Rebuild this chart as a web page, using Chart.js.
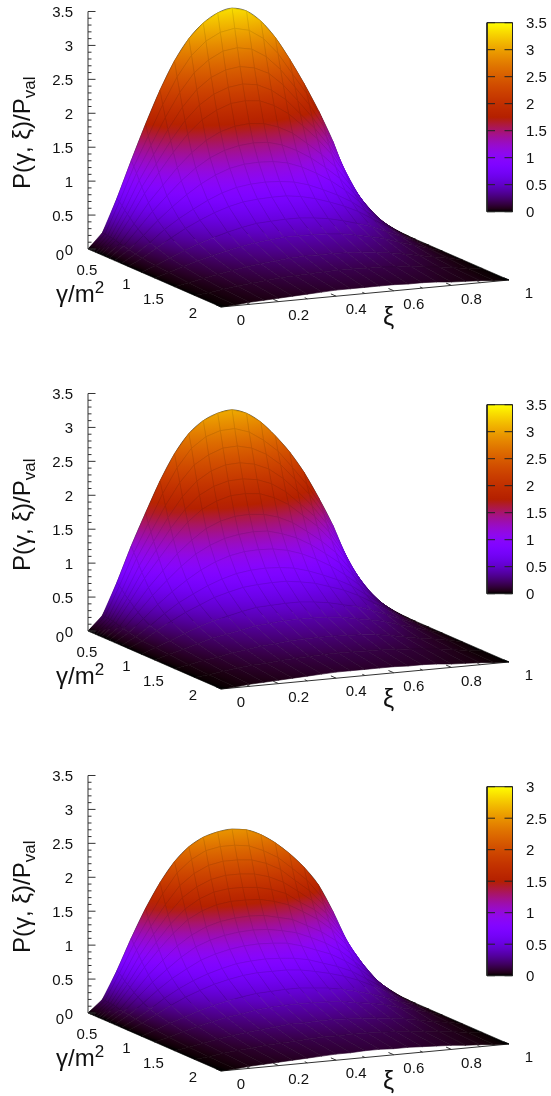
<!DOCTYPE html>
<html>
<head>
<meta charset="utf-8">
<title>P(gamma, xi)/Pval surfaces</title>
<script src="https://cdn.jsdelivr.net/npm/chart.js@4"></script>
<style>
  html, body { margin: 0; padding: 0; background: #fff; overflow: hidden; }
  canvas { position: absolute; left: 0; }
</style>
</head>
<body>
<canvas id="panelTop" width="551" height="382" style="top:0"></canvas>
<canvas id="panelMiddle" width="551" height="382" style="top:382px"></canvas>
<canvas id="panelBottom" width="551" height="332" style="top:764px"></canvas>
<script>
// Mesh positions of the surfaces
const xiValues = [0, .05, .1, .15, .2, .25, .3, .35, .4, .45, .5, .55, .6, .65, .7, .75, .8, .85, .9, .95, 1];
const gammaValues = [0, .04, .08, .12, .16, .2, .26, .32, .4, .5, .6, .8, 1, 1.3, 1.6, 2];

// One row per gamma value, one column per xi value
const surfaceTop = [
  [0,.22,.70,1.24,1.76,2.24,2.65,2.96,3.17,3.30,3.35,3.29,3.12,2.86,2.52,2.14,1.72,1.25,.68,.26,0],
  [0,.22,.67,1.17,1.60,2.04,2.43,2.73,2.92,3.03,3.07,3.02,2.88,2.64,2.32,2.01,1.65,1.15,.63,.24,0],
  [0,.21,.63,1.09,1.48,1.87,2.22,2.49,2.66,2.77,2.80,2.76,2.63,2.42,2.14,1.86,1.52,1.07,.59,.23,0],
  [0,.21,.58,1.00,1.36,1.71,2.02,2.26,2.42,2.51,2.54,2.50,2.40,2.21,1.96,1.70,1.39,.99,.56,.23,0],
  [0,.20,.54,.92,1.24,1.56,1.84,2.05,2.19,2.27,2.30,2.27,2.17,2.01,1.78,1.55,1.27,.91,.52,.21,0],
  [0,.19,.50,.84,1.13,1.41,1.66,1.85,1.97,2.05,2.07,2.05,1.96,1.82,1.62,1.41,1.16,.83,.48,.20,0],
  [0,.17,.44,.73,.97,1.21,1.41,1.57,1.68,1.74,1.76,1.74,1.67,1.56,1.39,1.21,1.00,.72,.43,.18,0],
  [0,.16,.39,.63,.84,1.04,1.21,1.34,1.43,1.48,1.50,1.49,1.43,1.33,1.20,1.04,.86,.62,.38,.16,0],
  [0,.14,.33,.53,.71,.87,1.01,1.12,1.20,1.24,1.25,1.24,1.20,1.12,1.01,.88,.72,.53,.32,.14,0],
  [0,.12,.27,.44,.58,.70,.81,.90,.96,.99,1.00,.99,.96,.90,.81,.71,.59,.43,.27,.12,0],
  [0,.10,.23,.36,.48,.58,.67,.74,.79,.81,.82,.82,.79,.74,.67,.59,.49,.36,.23,.10,0],
  [0,.08,.17,.26,.34,.41,.47,.52,.56,.57,.58,.58,.56,.53,.48,.42,.35,.26,.17,.08,0],
  [0,.06,.13,.19,.25,.30,.34,.38,.40,.42,.42,.42,.41,.39,.35,.31,.26,.19,.13,.06,0],
  [0,.04,.08,.12,.16,.19,.22,.24,.26,.27,.27,.27,.26,.25,.23,.20,.16,.12,.08,.04,0],
  [0,.02,.05,.08,.10,.12,.14,.15,.16,.17,.17,.17,.16,.16,.14,.13,.10,.08,.05,.02,0],
  [0,.01,.03,.04,.05,.06,.07,.08,.09,.09,.09,.09,.09,.08,.08,.07,.05,.04,.03,.01,0]
];
const surfaceMiddle = [
  [0,.21,.67,1.19,1.66,2.11,2.49,2.77,2.94,3.03,3.06,2.99,2.84,2.62,2.36,2.04,1.65,1.22,.70,.28,0],
  [0,.21,.64,1.11,1.52,1.94,2.30,2.57,2.72,2.79,2.80,2.73,2.59,2.41,2.15,1.88,1.55,1.12,.65,.25,0],
  [0,.20,.60,1.04,1.41,1.78,2.10,2.34,2.47,2.55,2.56,2.51,2.40,2.23,1.99,1.75,1.44,1.04,.60,.24,0],
  [0,.20,.55,.95,1.29,1.62,1.91,2.12,2.25,2.32,2.33,2.29,2.20,2.04,1.83,1.60,1.32,.96,.56,.23,0],
  [0,.19,.51,.87,1.18,1.48,1.74,1.93,2.04,2.10,2.11,2.08,2.00,1.86,1.66,1.46,1.21,.88,.52,.21,0],
  [0,.18,.48,.80,1.07,1.34,1.57,1.74,1.84,1.90,1.91,1.89,1.81,1.69,1.51,1.33,1.10,.80,.48,.20,0],
  [0,.16,.42,.69,.92,1.15,1.33,1.48,1.57,1.62,1.63,1.61,1.55,1.45,1.30,1.14,.95,.69,.42,.18,0],
  [0,.15,.37,.60,.80,.99,1.15,1.26,1.34,1.38,1.40,1.39,1.33,1.25,1.13,.98,.82,.60,.37,.16,0],
  [0,.13,.31,.50,.67,.82,.95,1.05,1.12,1.16,1.17,1.16,1.12,1.05,.95,.83,.68,.51,.31,.14,0],
  [0,.11,.25,.41,.55,.66,.76,.84,.90,.93,.94,.93,.90,.84,.76,.67,.56,.41,.26,.12,0],
  [0,.09,.22,.34,.45,.54,.63,.69,.74,.76,.77,.77,.74,.70,.63,.56,.46,.34,.22,.10,0],
  [0,.08,.16,.24,.32,.39,.44,.49,.53,.54,.55,.55,.53,.50,.45,.40,.33,.25,.16,.08,0],
  [0,.06,.12,.18,.24,.28,.32,.36,.38,.40,.40,.40,.39,.37,.33,.29,.25,.18,.12,.06,0],
  [0,.04,.08,.11,.15,.18,.21,.23,.25,.26,.26,.26,.25,.24,.22,.19,.15,.11,.08,.04,0],
  [0,.02,.05,.08,.10,.11,.13,.14,.15,.16,.16,.16,.15,.15,.13,.12,.10,.08,.05,.02,0],
  [0,.01,.03,.04,.05,.06,.07,.08,.09,.09,.09,.09,.09,.08,.08,.07,.05,.04,.03,.01,0]
];
const surfaceBottom = [
  [0,.18,.58,1.04,1.46,1.82,2.11,2.31,2.43,2.49,2.51,2.48,2.39,2.25,2.07,1.85,1.57,1.16,.69,.28,0],
  [0,.18,.56,.97,1.33,1.67,1.96,2.14,2.25,2.29,2.29,2.26,2.17,2.05,1.87,1.68,1.42,1.06,.64,.26,0],
  [0,.17,.52,.90,1.23,1.53,1.79,1.95,2.05,2.09,2.09,2.07,2.00,1.89,1.71,1.54,1.31,.98,.60,.25,0],
  [0,.17,.48,.83,1.13,1.40,1.63,1.77,1.86,1.90,1.90,1.88,1.82,1.72,1.57,1.41,1.20,.91,.57,.25,0],
  [0,.17,.45,.76,1.03,1.28,1.48,1.61,1.69,1.72,1.72,1.70,1.65,1.57,1.42,1.29,1.09,.84,.53,.23,0],
  [0,.16,.42,.70,.94,1.16,1.34,1.45,1.52,1.55,1.55,1.54,1.49,1.42,1.30,1.17,1.00,.76,.49,.22,0],
  [0,.14,.37,.61,.81,1.00,1.14,1.24,1.30,1.33,1.34,1.33,1.28,1.23,1.12,1.01,.86,.66,.43,.19,0],
  [0,.13,.33,.53,.70,.86,.99,1.07,1.12,1.15,1.16,1.15,1.11,1.06,.97,.87,.74,.56,.37,.17,0],
  [0,.12,.28,.45,.60,.72,.83,.90,.95,.98,.99,.98,.96,.90,.82,.74,.62,.48,.31,.15,0],
  [0,.10,.23,.37,.49,.59,.67,.73,.78,.80,.81,.80,.78,.74,.67,.60,.51,.38,.25,.12,0],
  [0,.09,.20,.31,.41,.49,.56,.61,.65,.67,.67,.67,.65,.61,.56,.50,.42,.32,.21,.10,0],
  [0,.07,.15,.22,.29,.35,.40,.44,.47,.48,.49,.49,.47,.45,.41,.36,.30,.23,.15,.08,0],
  [0,.05,.11,.17,.22,.26,.29,.33,.35,.36,.36,.36,.35,.34,.30,.27,.23,.17,.12,.06,0],
  [0,.03,.07,.11,.14,.17,.19,.21,.23,.23,.24,.24,.23,.22,.20,.18,.15,.11,.07,.04,0],
  [0,.02,.05,.07,.09,.11,.12,.13,.14,.15,.15,.15,.15,.14,.13,.11,.09,.07,.05,.02,0],
  [0,.01,.03,.04,.05,.06,.07,.08,.09,.09,.10,.10,.09,.09,.08,.07,.06,.04,.03,.01,0]
];

// Tick labels
const zTicks = [0, .5, 1, 1.5, 2, 2.5, 3, 3.5];
const gammaTicks = [0, .5, 1, 1.5, 2];
const xiTicks = [0, .2, .4, .6, .8, 1];
const cbTicksTall = [0, .5, 1, 1.5, 2, 2.5, 3, 3.5];
const cbTicksShort = [0, .5, 1, 1.5, 2, 2.5, 3];

// Layout of one gnuplot panel, in pixels
const ORIGIN_X = 88, ORIGIN_Y = 249;
const AREA_RIGHT = 513;
const PX_PER_XI = 288, PX_PER_Z = 67.86;
const XI_RISE = 27, GAMMA_DX = 133, GAMMA_DROP = 58;   // pixels over the full xi and gamma ranges
const CB_BOTTOM = 211.7, CB_HEIGHT = 189;
const CB_LEFT = 487, CB_CENTER = 500;

const FONT = '"Liberation Sans", Arial, sans-serif';
const AXIS_COLOR = '#333';
const MESH_SHADE = 0.86;

Chart.defaults.font.family = FONT;

function palette(v, cbMax, shade) {
  const x = Math.min(1, Math.max(0, v / cbMax));
  const k = (shade === undefined ? 1 : shade) * 255;
  const r = Math.sqrt(x), g = x * x * x, b = Math.max(0, Math.sin(2 * Math.PI * x));
  return `rgb(${Math.round(r * k)},${Math.round(g * k)},${Math.round(b * k)})`;
}

// Oblique view: everything ends up in xi units across and z units up
function project(gamma, xi, z) {
  return {
    x: xi + (gamma / 2) * GAMMA_DX / PX_PER_XI,
    y: z + xi * XI_RISE / PX_PER_Z - (gamma / 2) * GAMMA_DROP / PX_PER_Z
  };
}

// Options get resolved once before the layout has run, the scales give NaN then
function scaleReady(scale) {
  return scale && Number.isFinite(scale.getPixelForValue(0));
}

// Colour follows height inside a cell, so use a gradient along the slope of the cell
function cellFill(chart, pts, zs, cbMax, shade) {
  const sx = chart.scales.x, sy = chart.scales.y;
  const zMean = (zs[0] + zs[1] + zs[2] + zs[3]) / 4;
  if (!scaleReady(sx) || !scaleReady(sy)) return palette(zMean, cbMax, shade);
  const px = pts.map(p => ({ x: sx.getPixelForValue(p.x), y: sy.getPixelForValue(p.y) }));
  const zMin = Math.min(...zs), zMax = Math.max(...zs);
  const e1x = (px[1].x - px[0].x + px[2].x - px[3].x) / 2, e1y = (px[1].y - px[0].y + px[2].y - px[3].y) / 2;
  const e2x = (px[3].x - px[0].x + px[2].x - px[1].x) / 2, e2y = (px[3].y - px[0].y + px[2].y - px[1].y) / 2;
  const d1 = (zs[1] - zs[0] + zs[2] - zs[3]) / 2, d2 = (zs[3] - zs[0] + zs[2] - zs[1]) / 2;
  const det = e1x * e2y - e1y * e2x;
  if (Math.abs(det) < 1e-6 || zMax - zMin < 1e-4) return palette(zMean, cbMax, shade);
  const a = (d1 * e2y - d2 * e1y) / det, b = (e1x * d2 - e2x * d1) / det;
  const len2 = a * a + b * b;
  if (len2 < 1e-9) return palette(zMean, cbMax, shade);
  const cx = (px[0].x + px[1].x + px[2].x + px[3].x) / 4, cy = (px[0].y + px[1].y + px[2].y + px[3].y) / 4;
  const grad = chart.ctx.createLinearGradient(
    cx + a * (zMin - zMean) / len2, cy + b * (zMin - zMean) / len2,
    cx + a * (zMax - zMean) / len2, cy + b * (zMax - zMean) / len2);
  for (let k = 0; k <= 4; k++) grad.addColorStop(k / 4, palette(zMin + (zMax - zMin) * k / 4, cbMax, shade));
  return grad;
}

function surfaceDatasets(table, cbMax) {
  const sets = [];
  // first dataset is painted last, so the front of the surface comes first
  for (let g = gammaValues.length - 2; g >= 0; g--) {
    for (let i = 0; i < xiValues.length - 1; i++) {
      const corners = [[g, i], [g, i + 1], [g + 1, i + 1], [g + 1, i]];
      const zs = corners.map(c => table[c[0]][c[1]]);
      const pts = corners.map((c, k) => project(gammaValues[c[0]], xiValues[c[1]], zs[k]));
      sets.push({
        data: pts.concat([pts[0]]),
        showLine: true,
        pointRadius: 0,
        borderWidth: 0.6,
        borderColor: ctx => cellFill(ctx.chart, pts, zs, cbMax, MESH_SHADE),
        backgroundColor: ctx => cellFill(ctx.chart, pts, zs, cbMax),
        fill: 'shape'
      });
    }
  }
  return sets;
}

// The back row again as a smooth curve behind the cells, that gives the dome its round outline
function backEdgeSet(table, cbMax) {
  return {
    data: xiValues.map((xi, i) => project(gammaValues[0], xi, table[0][i])),
    showLine: true,
    pointRadius: 0,
    cubicInterpolationMode: 'monotone',
    borderWidth: 0.8,
    borderColor: 'rgba(30,30,30,0.75)',
    fill: 'shape',
    backgroundColor: ctx => {
      const sy = ctx.chart.scales.y;
      if (!scaleReady(sy)) return 'transparent';
      const lift = 0.5 * XI_RISE / PX_PER_Z;
      const grad = ctx.chart.ctx.createLinearGradient(0, sy.getPixelForValue(lift), 0, sy.getPixelForValue(lift + cbMax));
      for (let k = 0; k <= 32; k++) grad.addColorStop(k / 32, palette(cbMax * k / 32, cbMax));
      return grad;
    }
  };
}

// Line pieces for axes and tick marks, NaN breaks the line between them
function lineSet(pieces, yAxisID, color) {
  const data = [];
  pieces.forEach(p => data.push({ x: p[0], y: p[1] }, { x: p[2], y: p[3] }, { x: NaN, y: NaN }));
  return { data, yAxisID: yAxisID, showLine: true, pointRadius: 0, borderWidth: 1, borderColor: color, fill: false, clip: false };
}

function zAxisSet() {
  const pieces = [[0, 0, 0, 3.5]];
  for (let k = 0; k <= 35; k++) {
    const len = k % 5 === 0 ? 7.5 : 3.5;
    pieces.push([0, k / 10, len / PX_PER_XI, k / 10]);
  }
  return lineSet(pieces, 'y', AXIS_COLOR);
}

function xiAxisSet() {
  const a = project(2, 0, 0), b = project(2, 1, 0);
  const pieces = [[a.x, a.y, b.x, b.y]];
  for (let k = 0; k <= 10; k++) {
    const s = project(2, k / 10, 0), e = project(k % 2 === 0 ? 1.92 : 1.96, k / 10, 0);
    pieces.push([s.x, s.y, e.x, e.y]);
  }
  return lineSet(pieces, 'y', AXIS_COLOR);
}

function colorbarSets(cbMax, ticks) {
  const xAt = px => (px - ORIGIN_X) / PX_PER_XI;
  const bar = {
    data: [{ x: xAt(CB_CENTER), y: 0 }, { x: xAt(CB_CENTER), y: cbMax }],
    yAxisID: 'cb', showLine: true, pointRadius: 0, borderWidth: 26, fill: false, clip: false,
    borderCapStyle: 'butt',
    borderColor: ctx => {
      const cb = ctx.chart.scales.cb;
      if (!scaleReady(cb)) return '#000';
      const grad = ctx.chart.ctx.createLinearGradient(0, cb.getPixelForValue(0), 0, cb.getPixelForValue(cbMax));
      for (let k = 0; k <= 64; k++) grad.addColorStop(k / 64, palette(cbMax * k / 64, cbMax));
      return grad;
    }
  };
  const l = xAt(CB_LEFT), r = xAt(AREA_RIGHT - 0.5);
  const pieces = [[l, 0, r, 0], [r, 0, r, cbMax], [r, cbMax, l, cbMax], [l, cbMax, l, 0]];
  ticks.forEach(t => {
    pieces.push([l, t, l + 8 / PX_PER_XI, t], [r - 8 / PX_PER_XI, t, r, t]);
  });
  return [lineSet(pieces, 'cb', '#222'), bar];
}

// Text that has no axis in Chart.js: the two base axes and the titles with sub/superscripts
const panelText = {
  id: 'panelText',
  afterDraw(chart) {
    const ctx = chart.ctx, sx = chart.scales.x, sy = chart.scales.y;
    ctx.save();
    ctx.fillStyle = '#111';
    ctx.textBaseline = 'middle';
    ctx.font = '15px ' + FONT;

    ctx.textAlign = 'right';
    gammaTicks.forEach(t => {
      const p = project(t, 0, 0);
      ctx.fillText(String(t), sx.getPixelForValue(p.x) - 24, sy.getPixelForValue(p.y) + 7);
    });
    ctx.textAlign = 'center';
    xiTicks.forEach(t => {
      const p = project(2, t, 0);
      ctx.fillText(String(t), sx.getPixelForValue(p.x) + 20, sy.getPixelForValue(p.y) + 14);
    });

    // gamma title
    ctx.textAlign = 'left';
    ctx.textBaseline = 'alphabetic';
    ctx.font = '24px ' + FONT;
    ctx.fillText('γ/m', 56, 302);
    const w = ctx.measureText('γ/m').width;
    ctx.font = '17px ' + FONT;
    ctx.fillText('2', 56 + w, 293);

    // xi title
    ctx.font = '25px ' + FONT;
    ctx.fillText('ξ', 383, 325);

    // z title, rotated
    ctx.translate(30, 189);
    ctx.rotate(-Math.PI / 2);
    ctx.font = '24px ' + FONT;
    ctx.fillText('P(γ, ξ)/P', 0, 0);
    const w2 = ctx.measureText('P(γ, ξ)/P').width;
    ctx.font = '17px ' + FONT;
    ctx.fillText('val', w2, 5);
    ctx.restore();
  }
};

function drawPanel(canvasId, table, cbTicks) {
  const canvas = document.getElementById(canvasId);
  const H = canvas.height;
  const cbMax = cbTicks[cbTicks.length - 1];
  const cbPx = CB_HEIGHT / cbMax;
  const datasets = [].concat(colorbarSets(cbMax, cbTicks), [zAxisSet()], surfaceDatasets(table, cbMax),
    [backEdgeSet(table, cbMax), xiAxisSet()]);

  return new Chart(canvas.getContext('2d'), {
    type: 'scatter',
    data: { datasets },
    plugins: [panelText],
    options: {
      responsive: false,
      animation: false,
      events: [],
      layout: { padding: 0 },
      plugins: { legend: { display: false }, tooltip: { enabled: false } },
      scales: {
        x: { type: 'linear', display: false, min: 0, max: (AREA_RIGHT - ORIGIN_X) / PX_PER_XI },
        y: {
          type: 'linear',
          position: 'left',
          min: (ORIGIN_Y - H) / PX_PER_Z,
          max: ORIGIN_Y / PX_PER_Z,
          border: { display: false },
          grid: { display: false, drawTicks: false },
          ticks: {
            stepSize: 0.5, padding: 15, autoSkip: false, color: '#111', font: { size: 15 }, labelOffset: 1.5,
            callback: v => String(v)
          },
          afterBuildTicks: s => { s.ticks = zTicks.map(v => ({ value: v })); },
          afterFit: s => { s.width = ORIGIN_X; s.paddingTop = 0; s.paddingBottom = 0; }
        },
        cb: {
          type: 'linear',
          position: 'right',
          min: (CB_BOTTOM - H) / cbPx,
          max: CB_BOTTOM / cbPx,
          border: { display: false },
          grid: { display: false, drawTicks: false },
          ticks: {
            stepSize: 0.5, padding: 13, autoSkip: false, color: '#111', font: { size: 15 }, labelOffset: 1.5,
            callback: v => String(v)
          },
          afterBuildTicks: s => { s.ticks = cbTicks.map(v => ({ value: v })); },
          afterFit: s => { s.width = 551 - AREA_RIGHT; s.paddingTop = 0; s.paddingBottom = 0; }
        }
      }
    }
  });
}

drawPanel('panelTop', surfaceTop, cbTicksTall);
drawPanel('panelMiddle', surfaceMiddle, cbTicksTall);
drawPanel('panelBottom', surfaceBottom, cbTicksShort);
</script>
</body>
</html>
